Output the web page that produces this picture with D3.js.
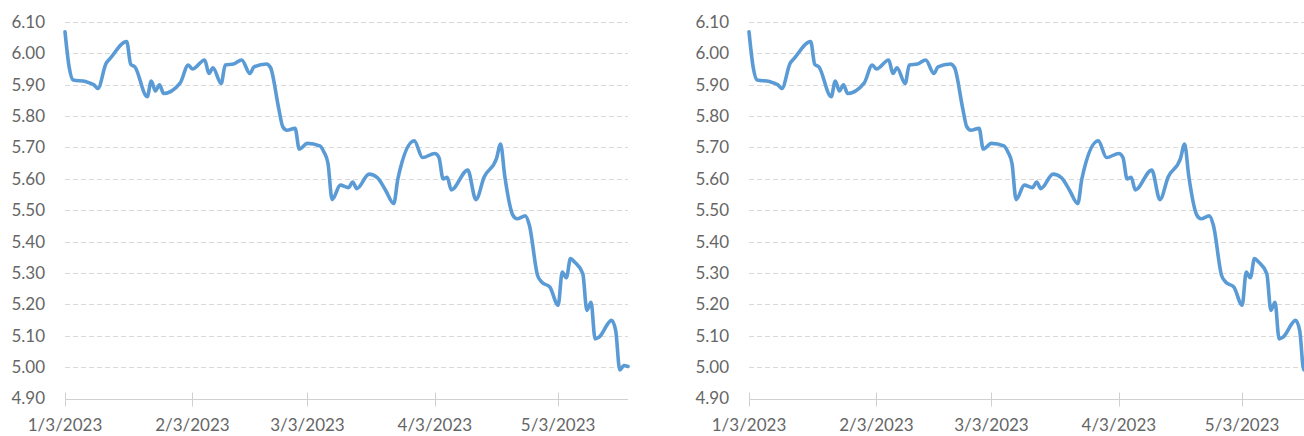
<!DOCTYPE html>
<html>
<head>
    <script src="https://cdnjs.cloudflare.com/ajax/libs/d3/7.8.5/d3.min.js"></script>
    <style>
        body {
            margin: 0;
            background: #fff;
        }
        .grid line {
            stroke: #d9d9d9;
            stroke-width: 1;
            stroke-dasharray: 5,3;
        }
        .axis-label {
            font-family: Lato, "Open Sans", sans-serif;
            font-size: 17px;
            fill: #666;
        }
        .rate-line {
            fill: none;
            stroke: #5b9bd5;
            stroke-width: 3.6;
            stroke-linejoin: round;
            stroke-linecap: round;
        }
    </style>
</head>
<body>
    <div id="chart"></div>

    <script>
        const width = 1304;
        const height = 436;

        // Data
        const dates = [
            "2023-01-03", "2023-01-04", "2023-01-05", "2023-01-08", "2023-01-10", "2023-01-11",
            "2023-01-13", "2023-01-14", "2023-01-18", "2023-01-19", "2023-01-20", "2023-01-23",
            "2023-01-24", "2023-01-25", "2023-01-26", "2023-01-27", "2023-01-31", "2023-02-02",
            "2023-02-03", "2023-02-06", "2023-02-07", "2023-02-08", "2023-02-10", "2023-02-11",
            "2023-02-13", "2023-02-15", "2023-02-17", "2023-02-18", "2023-02-21", "2023-02-22",
            "2023-02-24", "2023-02-25", "2023-02-26", "2023-02-28", "2023-03-01", "2023-03-03",
            "2023-03-06", "2023-03-07", "2023-03-08", "2023-03-09", "2023-03-11", "2023-03-13",
            "2023-03-14", "2023-03-15", "2023-03-18", "2023-03-20", "2023-03-22", "2023-03-24",
            "2023-03-25", "2023-03-29", "2023-03-31", "2023-04-03", "2023-04-04", "2023-04-05",
            "2023-04-06", "2023-04-07", "2023-04-11", "2023-04-13", "2023-04-15", "2023-04-18",
            "2023-04-19", "2023-04-20", "2023-04-22", "2023-04-23", "2023-04-25", "2023-04-26",
            "2023-04-28", "2023-04-29", "2023-05-01", "2023-05-03", "2023-05-04", "2023-05-05",
            "2023-05-06", "2023-05-07", "2023-05-09", "2023-05-10", "2023-05-11", "2023-05-12",
            "2023-05-13", "2023-05-16", "2023-05-17", "2023-05-18", "2023-05-19", "2023-05-20"
        ];
        const values = [
            6.069, 5.957, 5.915, 5.910, 5.900, 5.888,
            5.968, 5.984, 6.038, 5.965, 5.957, 5.862,
            5.912, 5.880, 5.900, 5.872, 5.905, 5.963,
            5.950, 5.979, 5.936, 5.954, 5.904, 5.963,
            5.966, 5.979, 5.936, 5.957, 5.966, 5.955,
            5.825, 5.766, 5.755, 5.761, 5.695, 5.713,
            5.705, 5.686, 5.649, 5.534, 5.580, 5.572,
            5.590, 5.569, 5.615, 5.604, 5.564, 5.521,
            5.600, 5.721, 5.668, 5.681, 5.668, 5.600,
            5.605, 5.565, 5.628, 5.534, 5.606, 5.665,
            5.711, 5.610, 5.484, 5.473, 5.482, 5.452,
            5.292, 5.271, 5.255, 5.197, 5.303, 5.285,
            5.346, 5.335, 5.298, 5.181, 5.207, 5.090,
            5.096, 5.149, 5.117, 4.991, 5.005, 5.002
        ];
        const xTicks = ["2023-01-03", "2023-02-03", "2023-03-03", "2023-04-03", "2023-05-03"];
        const yTicks = [4.9, 5.0, 5.1, 5.2, 5.3, 5.4, 5.5, 5.6, 5.7, 5.8, 5.9, 6.0, 6.1];
        const xDomain = ["2023-01-03", "2023-05-20"];

        const parse = d3.utcParse("%Y-%m-%d");
        const fmtDate = d3.utcFormat("%-m/%-d/%Y");
        const fmtVal = d3.format(".2f");

        const data = dates.map((d, i) => ({date: parse(d), value: values[i]}));

        const svg = d3.select("#chart")
            .append("svg")
            .attr("width", width)
            .attr("height", height)
            .style("display", "block");

        const y = d3.scaleLinear()
            .domain([4.9, 6.1])
            .range([398.5, 22]);

        // both panels show the same series, the right one cut off by the page edge
        function drawPanel(left) {
            const x = d3.scaleUtc()
                .domain(xDomain.map(parse))
                .range([left, left + 563]);
            const g = svg.append("g");

            g.append("g")
                .attr("class", "grid")
                .selectAll("line")
                .data(yTicks.slice(1))
                .join("line")
                .attr("x1", x.range()[0])
                .attr("x2", x.range()[1])
                .attr("y1", d => Math.round(y(d)) + 0.5)
                .attr("y2", d => Math.round(y(d)) + 0.5);

            g.append("g")
                .selectAll("text")
                .data(yTicks)
                .join("text")
                .attr("class", "axis-label")
                .attr("x", left - 20)
                .attr("y", d => y(d))
                .attr("dy", "0.35em")
                .attr("text-anchor", "end")
                .text(d => fmtVal(d));

            // x axis: solid line with cross ticks
            const axisY = Math.round(y(4.9)) + 0.5;
            g.append("line")
                .attr("x1", x.range()[0])
                .attr("x2", x.range()[1])
                .attr("y1", axisY)
                .attr("y2", axisY)
                .attr("stroke", "#d0d0d0");

            const ticks = xTicks.map(parse);
            g.append("g")
                .selectAll("line")
                .data(ticks)
                .join("line")
                .attr("x1", d => Math.round(x(d)) + 0.5)
                .attr("x2", d => Math.round(x(d)) + 0.5)
                .attr("y1", axisY - 7)
                .attr("y2", axisY + 7)
                .attr("stroke", "#d0d0d0");

            g.append("g")
                .selectAll("text")
                .data(ticks)
                .join("text")
                .attr("class", "axis-label")
                .attr("x", d => x(d))
                .attr("y", 431)
                .attr("text-anchor", "middle")
                .text(d => fmtDate(d));

            const line = d3.line()
                .x(d => x(d.date))
                .y(d => y(d.value))
                .curve(d3.curveMonotoneX);

            g.append("path")
                .datum(data)
                .attr("class", "rate-line")
                .attr("d", line);
        }

        drawPanel(65);
        drawPanel(749);
    </script>
</body>
</html>
